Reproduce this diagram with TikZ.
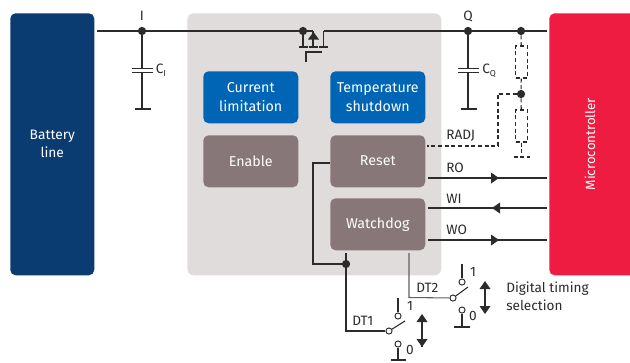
\documentclass[tikz,border=0pt]{standalone}
\usepackage{fontspec}
\setmainfont{Fira Sans}
\usetikzlibrary{arrows.meta}
\definecolor{navy}{HTML}{0A3C71}
\definecolor{redc}{HTML}{ED1C40}
\definecolor{panel}{HTML}{E0DCDC}
\definecolor{bluec}{HTML}{0065B4}
\definecolor{mauve}{HTML}{877779}
\definecolor{ink}{HTML}{2B2B2B}
\tikzset{
 block/.style={draw=none,fill=#1,rounded corners=4pt,minimum width=71.25pt,minimum height=39pt,inner sep=0pt,align=center,text=white,font=\fontsize{10.7}{14.5}\selectfont,anchor=north west},
 wire/.style={draw=ink,line width=0.8pt},
 dwire/.style={draw=ink,line width=0.8pt,dash pattern=on 3pt off 2pt},
 dot/.style={circle,fill=ink,draw=none,minimum size=6.2pt,inner sep=0pt},
 contact/.style={circle,draw=ink,fill=white,line width=0.7pt,minimum size=4.6pt,inner sep=0pt},
 lbl/.style={text=ink,font=\fontsize{10.2}{13}\selectfont,inner sep=0pt},
}
\begin{document}
\begin{tikzpicture}[x=0.75pt,y=-0.75pt]
\useasboundingbox (0,0) rectangle (630,362);
\fill[white] (0,0) rectangle (630,362);
% large blocks
\node[draw=none,fill=panel,rounded corners=5pt,minimum width=190.5pt,minimum height=196.5pt,inner sep=0pt,anchor=north west] (panel) at (187,13) {};
\node[fill=navy,rounded corners=4pt,minimum width=63pt,minimum height=196.5pt,inner sep=0pt,anchor=north west,text=white,align=center,font=\fontsize{10.3}{13.5}\selectfont] (batt) at (10,13) {Battery\\line};
\begin{scope}
\clip (540,0) rectangle (630,362);
\node[fill=redc,rounded corners=4pt,minimum width=72pt,minimum height=196.5pt,inner sep=0pt,anchor=north west] (mcu) at (549,13) {};
\end{scope}
\node[rotate=90,text=white,font=\fontsize{10}{12}\selectfont,inner sep=0pt] (mculabel) at (590,144) {Microcontroller};
\node[block=bluec] (cur) at (203,71) {Current\\limitation};
\node[block=bluec] (tmp) at (330,71) {Temperature\\shutdown};
\node[block=mauve] (en) at (203,135) {\raisebox{0.75pt}{Enable}};
\node[block=mauve] (rst) at (330,135) {\raisebox{0.75pt}{Reset}};
\node[block=mauve] (wd) at (330,198) {Watchdog};
% coordinates
\coordinate (l0) at (97,31);
\coordinate (r0) at (547,31);
\coordinate (ms) at (313,31);
\coordinate (md) at (323.5,31);
\coordinate (jn) at (346,264);
% reset to junction
\coordinate (rl) at (330,163);
\coordinate (rc) at (313,163);
\coordinate (rd) at (313,264);
\draw[wire] (rl) -- (rc) -- (rd) -- (jn);
\node[dot] (nI) at (142,31) {};
\node[dot] (nS) at (303,31) {};
\node[dot] (nQ) at (468,31) {};
\node[dot] (nR) at (521,31) {};
\node[dot] (nM) at (521,94) {};
\node[dot] (nJ) at (jn) {};
% main line
\draw[wire] (l0) -- (nI) -- (nS) -- (ms);
\draw[wire] (md) -- (nQ) -- (nR) -- (r0);
% mosfet
\coordinate (sb) at (303,47);
\coordinate (bb) at (313,47);
\coordinate (db) at (323.5,47);
\draw[wire] (nS) -- (sb);
\draw[wire,line width=1pt] (299,47) -- (308,47);
\draw[wire] (ms) -- (bb);
\draw[wire,line width=1pt] (309,47) -- (318,47);
\draw[wire] (md) -- (db);
\draw[wire,line width=1pt] (319,47) -- (328,47);
\fill[ink] (313.5,32) -- (319,39.5) -- (308,39.5) -- cycle;
\draw[wire] (306,62) -- (306,52) -- (322,52);
% C_I
\coordinate (ci1) at (142,68.5);
\coordinate (ci2) at (142,72.5);
\coordinate (cig) at (142,109);
\draw[wire] (nI) -- (ci1);
\draw[wire] (ci2) -- (cig);
\draw[wire,line width=1pt] (132,68.5) -- (153,68.5) (132,72.5) -- (153,72.5);
\draw[wire,line width=1pt] (134.5,109) -- (150.5,109);
\node[lbl] (labI) at (142,15.5) {I};
\node[lbl,anchor=west] (labCI) at (155.5,70.5) {C\raisebox{-2pt}{\fontsize{6.5}{7}\selectfont I}};
% C_Q
\coordinate (cq1) at (468,68.5);
\coordinate (cq2) at (468,72.5);
\coordinate (cqg) at (468,109);
\draw[wire] (nQ) -- (cq1);
\draw[wire] (cq2) -- (cqg);
\draw[wire,line width=1pt] (458,68.5) -- (479,68.5) (458,72.5) -- (479,72.5);
\draw[wire,line width=1pt] (460.5,109) -- (476.5,109);
\node[lbl] (labQ) at (468,16) {Q};
\node[lbl,anchor=west] (labCQ) at (482,70.5) {C\raisebox{-2pt}{\fontsize{6.5}{7}\selectfont Q}};
% resistors
\node[draw=ink,dash pattern=on 3pt off 2pt,line width=0.8pt,minimum width=8.5pt,minimum height=24pt,inner sep=0pt,fill=white] (r1) at (521.5,62) {};
\node[draw=ink,dash pattern=on 3pt off 2pt,line width=0.8pt,minimum width=8.5pt,minimum height=24pt,inner sep=0pt,fill=white] (r2) at (521.5,126) {};
\coordinate (rg) at (521.5,157);
\draw[dwire] (nR) -- (r1);
\draw[dwire] (r1) -- (nM);
\draw[dwire] (nM) -- (r2);
\draw[dwire] (r2) -- (rg);
\draw[dwire] (513.5,157) -- (530,157);
\coordinate (radjA) at (498,94);
\coordinate (radjB) at (498,146);
\coordinate (radjC) at (427,146);
\draw[dwire] (nM) -- (radjA) -- (radjB) -- (radjC);
\node[lbl,anchor=west] (labR) at (446,136) {RADJ};
% signals
\coordinate (ro0) at (428,178); \coordinate (ro1) at (547,178);
\coordinate (wi0) at (428,208); \coordinate (wi1) at (547,208);
\coordinate (wo0) at (428,240); \coordinate (wo1) at (547,240);
\draw[wire] (ro0) -- (ro1);
\draw[wire] (wi0) -- (wi1);
\draw[wire] (wo0) -- (wo1);
\fill[ink] (499,178) -- (491,172.5) -- (491,183.5) -- cycle;
\fill[ink] (492,208) -- (500,202.5) -- (500,213.5) -- cycle;
\fill[ink] (499,240) -- (491,234.5) -- (491,245.5) -- cycle;
\node[lbl,anchor=west] (labRO) at (446,168) {RO};
\node[lbl,anchor=west] (labWI) at (446,199) {WI};
\node[lbl,anchor=west] (labWO) at (446,230) {WO};
% DT1
\node[contact] (s1) at (389,331) {};
\node[contact] (t1) at (398,316) {};
\node[contact] (b1) at (398,344) {};
\coordinate (wd1) at (346,253);
\coordinate (k1) at (346,331);
\draw[wire] (wd1) -- (nJ) -- (k1) -- (s1);
\coordinate (a1) at (405,321);
\draw[wire] (s1) -- (a1);
\coordinate (tt1) at (398,298);
\coordinate (gg1) at (398,360);
\draw[wire] (t1) -- (tt1);
\draw[wire] (b1) -- (gg1);
\draw[wire,line width=1pt] (390.5,360) -- (406,360);
\node[lbl] (l11) at (410,306) {1};
\node[lbl] (l10) at (410,350) {0};
\node[lbl,anchor=west] (lDT1) at (352,321) {DT1};
\coordinate (ar1a) at (422,315);
\coordinate (ar1b) at (422,347);
\draw[wire,line width=1pt] (ar1a) -- (ar1b);
\fill[ink] (422,314) -- (427.5,322) -- (416.5,322) -- cycle;
\fill[ink] (422,347) -- (427.5,339) -- (416.5,339) -- cycle;
% DT2
\node[contact] (s2) at (453,298) {};
\node[contact] (t2) at (462,282) {};
\node[contact] (b2) at (462,310) {};
\coordinate (wd2) at (409,253);
\coordinate (k2) at (409,297.5);
\draw[wire,draw=ink!75] (wd2) -- (k2) -- (s2);
\coordinate (a2) at (468,287);
\draw[wire] (s2) -- (a2);
\coordinate (tt2) at (462,264);
\coordinate (gg2) at (462,327);
\draw[wire] (t2) -- (tt2);
\draw[wire] (b2) -- (gg2);
\draw[wire,line width=1pt] (454,327) -- (470,327);
\node[lbl] (l21) at (473,272) {1};
\node[lbl] (l20) at (473,316) {0};
\node[lbl,anchor=west] (lDT2) at (416,288) {DT2};
\coordinate (ar2a) at (485,282);
\coordinate (ar2b) at (485,313);
\draw[wire,line width=1pt] (ar2a) -- (ar2b);
\fill[ink] (485,281) -- (490.5,289) -- (479.5,289) -- cycle;
\fill[ink] (485,314) -- (490.5,306) -- (479.5,306) -- cycle;
\node[lbl,anchor=north west,align=left,font=\fontsize{10.2}{13.4}\selectfont] (sel) at (506,282) {Digital timing\\selection};
\end{tikzpicture}
\end{document}
